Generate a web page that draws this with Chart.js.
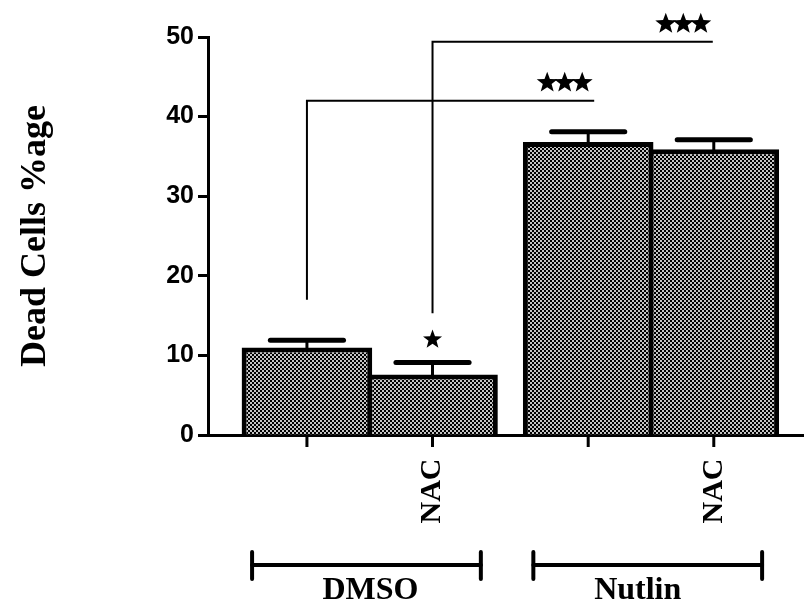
<!DOCTYPE html>
<html>
<head>
<meta charset="utf-8">
<script src="https://cdn.jsdelivr.net/npm/chart.js@4.4.1/dist/chart.umd.min.js"></script>
<style>
  html, body { margin: 0; padding: 0; background: #fff; overflow: hidden; }
  #wrap { width: 804px; height: 609px; position: relative; }
</style>
</head>
<body>
<div id="wrap"><canvas id="c"></canvas></div>
<script>
// Dead cell percentage, mean and SEM, per pre-treatment group
const groups = ['DMSO', 'Nutlin'];
const treatments = ['', 'NAC'];
const deadCells = [11.0, 36.8];
const deadCellsNAC = [7.6, 35.9];
const semCells = [0.9, 1.3];
const semCellsNAC = [1.5, 1.2];
const yTicks = [0, 10, 20, 30, 40, 50];
const yTitle = 'Dead Cells %age';
// significance: bracket from one bar to another, and a single mark over a bar
const comparisons = [
  { from: [0, 0], to: [0, 1], stars: 3 },
  { from: [1, 0], to: [1, 1], stars: 3 }
];
const singleMarks = [{ bar: [1, 0], stars: 1 }];

const values = [deadCells, deadCellsNAC];
const sems = [semCells, semCellsNAC];

const SERIF = '"Liberation Serif", "Times New Roman", serif';
const SANS = '"Liberation Sans", Arial, sans-serif';

function dotPattern() {
  const t = document.createElement('canvas');
  t.width = 4; t.height = 4;
  const g = t.getContext('2d');
  g.fillStyle = '#000';
  g.fillRect(0, 0, 4, 4);
  g.fillStyle = '#c4c4c4';
  g.fillRect(0, 0, 2, 2);
  g.fillRect(2, 2, 2, 2);
  return g.createPattern(t, 'repeat');
}
const fill = dotPattern();

// five-pointed star centred at (cx, cy)
function star(ctx, cx, cy, r) {
  ctx.beginPath();
  for (let k = 0; k < 10; k++) {
    const rad = k % 2 ? r * 0.42 : r;
    const a = -Math.PI / 2 + k * Math.PI / 5;
    const px = cx + rad * Math.cos(a), py = cy + rad * Math.sin(a);
    k ? ctx.lineTo(px, py) : ctx.moveTo(px, py);
  }
  ctx.closePath();
  ctx.fill();
}

const annotations = {
  id: 'annotations',
  afterDatasetsDraw(chart, args, o) {
    const { ctx, chartArea, scales: { y } } = chart;
    const bar = (d, i) => chart.getDatasetMeta(d).data[i];
    const bottom = chartArea.bottom;
    ctx.save();
    ctx.strokeStyle = '#000';
    ctx.fillStyle = '#000';

    // error bars (upper half only)
    sems.forEach((row, d) => row.forEach((e, i) => {
      const b = bar(d, i);
      const top = y.getPixelForValue(values[d][i] + e);
      const half = b.width * o.capRatio / 2;
      ctx.lineCap = 'butt';
      ctx.lineWidth = 3;
      ctx.beginPath(); ctx.moveTo(b.x, b.y + 2); ctx.lineTo(b.x, top); ctx.stroke();
      ctx.lineCap = 'round';
      ctx.lineWidth = 5;
      ctx.beginPath(); ctx.moveTo(b.x - half, top); ctx.lineTo(b.x + half, top); ctx.stroke();
    }));

    // x tick marks under every bar and rotated treatment labels
    ctx.lineCap = 'butt';
    ctx.lineWidth = 3;
    values.forEach((row, d) => row.forEach((v, i) => {
      const b = bar(d, i);
      ctx.beginPath(); ctx.moveTo(b.x, bottom); ctx.lineTo(b.x, bottom + 12); ctx.stroke();
      if (treatments[d]) {
        ctx.save();
        ctx.translate(b.x, bottom + 56);
        ctx.rotate(-Math.PI / 2);
        ctx.font = 'bold 30px ' + SERIF;
        ctx.textAlign = 'center';
        ctx.textBaseline = 'middle';
        ctx.fillText(treatments[d], 0, 0);
        ctx.restore();
      }
    }));

    // group brackets with group names
    groups.forEach((name, i) => {
      const l = bar(0, i), r = bar(1, i);
      const x1 = l.x - l.width * 0.42, x2 = r.x + r.width * 0.37;
      const yy = bottom + 130;
      ctx.lineWidth = 4;
      ctx.lineCap = 'round';
      ctx.beginPath(); ctx.moveTo(x1, yy); ctx.lineTo(x2, yy); ctx.stroke();
      ctx.beginPath(); ctx.moveTo(x1, yy - 13); ctx.lineTo(x1, yy + 14); ctx.stroke();
      ctx.beginPath(); ctx.moveTo(x2, yy - 13); ctx.lineTo(x2, yy + 14); ctx.stroke();
      ctx.font = 'bold 32px ' + SERIF;
      ctx.textAlign = 'center';
      ctx.textBaseline = 'alphabetic';
      ctx.fillText(name, (x1 + x2) / 2 + o.nameShift[i], bottom + 164);
    });

    // significance brackets
    ctx.lineCap = 'butt';
    ctx.lineWidth = 2;
    comparisons.forEach((c, k) => {
      const a = bar(c.from[0], c.from[1]);
      const b = bar(c.to[0], c.to[1]);
      const yl = y.getPixelForValue(o.levels[k]);
      const yb = y.getPixelForValue(o.drops[k]);
      const xr = b.x + o.ends[k];
      ctx.beginPath();
      ctx.moveTo(a.x, yb); ctx.lineTo(a.x, yl); ctx.lineTo(xr, yl);
      ctx.stroke();
      for (let s = 0; s < c.stars; s++) {
        star(ctx, xr - 12 - s * 17.5, yl - 18, 11);
      }
    });
    singleMarks.forEach(m => {
      const b = bar(m.bar[0], m.bar[1]);
      const top = y.getPixelForValue(values[m.bar[0]][m.bar[1]] + sems[m.bar[0]][m.bar[1]]);
      star(ctx, b.x, top - 23, 10);
    });
    ctx.restore();
  }
};

new Chart(document.getElementById('c'), {
  type: 'bar',
  data: {
    datasets: values.map((row, d) => ({
      label: treatments[d] || 'Control',
      data: row.map((v, i) => ({ x: i, y: v })),
      backgroundColor: fill,
      borderColor: '#000',
      borderWidth: 5,
      borderSkipped: 'start',
      categoryPercentage: 0.893,
      barPercentage: 1.04
    }))
  },
  options: {
    responsive: true,
    maintainAspectRatio: false,
    animation: false,
    layout: { padding: { top: 37, right: 0, bottom: 0, left: 0 } },
    plugins: {
      legend: { display: false },
      tooltip: { enabled: false },
      annotations: {
        capRatio: 0.56,
        levels: [42, 49.4],
        drops: [17.0, 15.3],
        ends: [6, -1],
        nameShift: [4, -10]
      }
    },
    scales: {
      x: {
        type: 'linear',
        offset: false,
        bounds: 'data',
        min: -0.575,
        max: 1.544,
        afterBuildTicks: s => { s.ticks = groups.map((g, i) => ({ value: i })); },
        afterFit: s => { s.height = 174; },
        ticks: { display: false },
        grid: { display: false, offset: false },
        border: { display: true, color: '#000', width: 3 }
      },
      y: {
        min: 0,
        max: 50,
        afterBuildTicks: s => { s.ticks = yTicks.map(v => ({ value: v })); },
        afterFit: s => { s.width = 208; },
        ticks: {
          color: '#000',
          padding: 4,
          font: { family: SANS, size: 25, weight: 'bold' }
        },
        grid: {
          display: true,
          drawOnChartArea: false,
          drawTicks: true,
          tickLength: 10,
          tickWidth: 3,
          tickColor: '#000'
        },
        border: { display: true, color: '#000', width: 3 },
        title: {
          display: true,
          text: yTitle,
          color: '#000',
          padding: { top: 18, bottom: 0 },
          font: { family: SERIF, size: 36, weight: 'bold', lineHeight: 1 }
        }
      }
    }
  },
  plugins: [annotations]
});
</script>
</body>
</html>
